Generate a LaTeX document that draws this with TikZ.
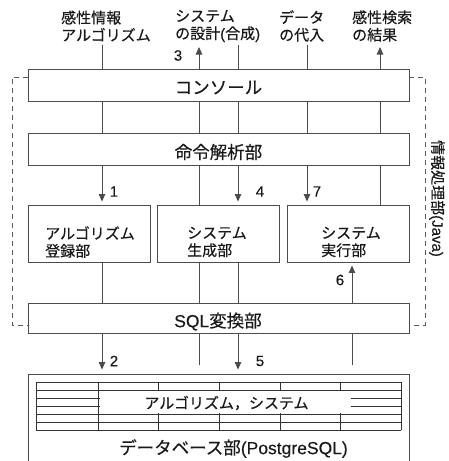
\documentclass[tikz,border=0pt]{standalone}
\usepackage{fontspec}
\setmainfont{Noto Sans CJK JP}[FakeBold=0.35]
\newfontfamily\lat{Liberation Sans}[FakeBold=0.2]
\usetikzlibrary{arrows.meta}
\begin{document}
\begin{tikzpicture}[x=1pt,y=-1pt,
  every node/.style={inner sep=0pt, text=black!90},
  box/.style={draw=black!70, line width=0.9pt, rectangle},
  widebox/.style={box, minimum width=381pt},
  midbox/.style={box, minimum width=122pt, minimum height=57pt},
  small/.style={font=\fontsize{15}{17.5}\selectfont, align=left},
  big/.style={font=\fontsize{17.5}{20}\selectfont},
  num/.style={font=\lat\fontsize{15}{18}\selectfont},
  ln/.style={draw=black!70, line width=0.9pt},
  arr/.style={ln, -{Triangle[length=7.5pt,width=6.5pt]}},
  frame/.style={draw=black!65, line width=0.8pt, dash pattern=on 5pt off 4pt},
  tgrid/.style={draw=black!80, line width=0.7pt}]

\useasboundingbox (0,0) rectangle (448,461);

% boxes
\node[widebox, minimum height=32pt] (console) at (218.5,85) {};
\node[widebox, minimum height=32pt] (parse) at (218.5,149) {};
\node[midbox] (alg) at (89,233.5) {};
\node[midbox] (gen) at (218,233.5) {};
\node[midbox] (exe) at (348,233.5) {};
\node[widebox, minimum height=30pt] (sql) at (218.5,318) {};
\node[widebox, minimum height=88pt] (db) at (218.5,418) {};

% box texts
\node[big] (consolet) at (218.5,87.5) {コンソール};
\node[big] (parset) at (218.5,152) {命令解析部};
\node[small] (algt) at (90,242) {アルゴリズム\\登録部};
\node[small] (gent) at (217,242) {システム\\生成部};
\node[small] (exet) at (351,242) {システム\\実行部};
\node[big] (sqlt) at (218,321.5) {{\lat SQL}変換部};
\node[big] (dbt) at (233.5,448.5) {データベース部{\lat (PostgreSQL)}};

% top labels
\node[small, anchor=west] (in1) at (61,26) {感性情報\\アルゴリズム};
\node[small, anchor=west] (in2) at (175,26) {システム\\の設計{\lat (}合成{\lat )}};
\node[small, anchor=west] (in3) at (279,26) {データ\\の代入};
\node[small, anchor=west] (in4) at (352,26) {感性検索\\の結果};

% side label
\node[small, rotate=-90] (javat) at (437,198.5) {情報処理部{\lat (Java)}};

% column coordinates
\coordinate (e1) at (102,45);
\coordinate (e2) at (199,47);
\coordinate (e3) at (238,45);
\coordinate (e4) at (307,45);
\coordinate (e5) at (380,47);
\coordinate (e6) at (352,0);

% top
\draw[ln] (e1) -- (e1 |- console.north);
\draw[arr] (e2 |- console.north) -- (e2);
\draw[ln] (e3) -- (e3 |- console.north);
\draw[ln] (e4) -- (e4 |- console.north);
\draw[arr] (e5 |- console.north) -- (e5);

% console -> parse
\foreach \c in {e1,e2,e3,e4,e5}
  \draw[ln] (\c |- console.south) -- (\c |- parse.north);

% parse -> middle
\draw[arr, shorten >=3pt] (e1 |- parse.south) -- (e1 |- alg.north);
\draw[ln] (e2 |- parse.south) -- (e2 |- gen.north);
\draw[arr, shorten >=3pt] (e3 |- parse.south) -- (e3 |- gen.north);
\draw[arr, shorten >=3pt] (e4 |- parse.south) -- (e4 |- exe.north);
\draw[ln] (e5 |- parse.south) -- (e5 |- exe.north);

% middle -> sql
\draw[ln] (e1 |- alg.south) -- (e1 |- sql.north);
\draw[ln] (e2 |- gen.south) -- (e2 |- sql.north);
\draw[ln] (e3 |- gen.south) -- (e3 |- sql.north);
\draw[arr, shorten >=3pt] (e6 |- sql.north) -- (e6 |- exe.south);

% sql -> db
\draw[arr, shorten >=4pt] (e1 |- sql.south) -- (e1 |- db.north);
\draw[ln, shorten >=9pt] (e2 |- sql.south) -- (e2 |- db.north);
\draw[arr, shorten >=4pt] (e3 |- sql.south) -- (e3 |- db.north);
\draw[ln, shorten >=9pt] (e6 |- sql.south) -- (e6 |- db.north);

% numbers
\node[num] (n3) at (178,55.5) {3};
\node[num] (n1) at (114,191.5) {1};
\node[num] (n4) at (260,191.5) {4};
\node[num] (n7) at (317,191.5) {7};
\node[num] (n6) at (340,280) {6};
\node[num] (n2) at (114,361) {2};
\node[num] (n5) at (260,361) {5};

% dashed frame
\draw[frame] (28,77) -- (12,77) -- (12,325) -- (28,325);
\draw[frame] (409,77) -- (425,77) -- (425,325) -- (409,325);

% table
\foreach \y in {382,390,398,406,414,422.5,430}
  \draw[tgrid] (36,\y) -- (401,\y);
\draw[tgrid] (36,382) -- (36,430);
\draw[tgrid] (401,382) -- (401,430);
\foreach \x in {98,158,219,280,340}
  \draw[tgrid] (\x,382) -- (\x,430);
\fill[white] (100,391) rectangle (351,413);
\node[small] (tablet) at (226.5,403) {アルゴリズム，システム};
\end{tikzpicture}
\end{document}
